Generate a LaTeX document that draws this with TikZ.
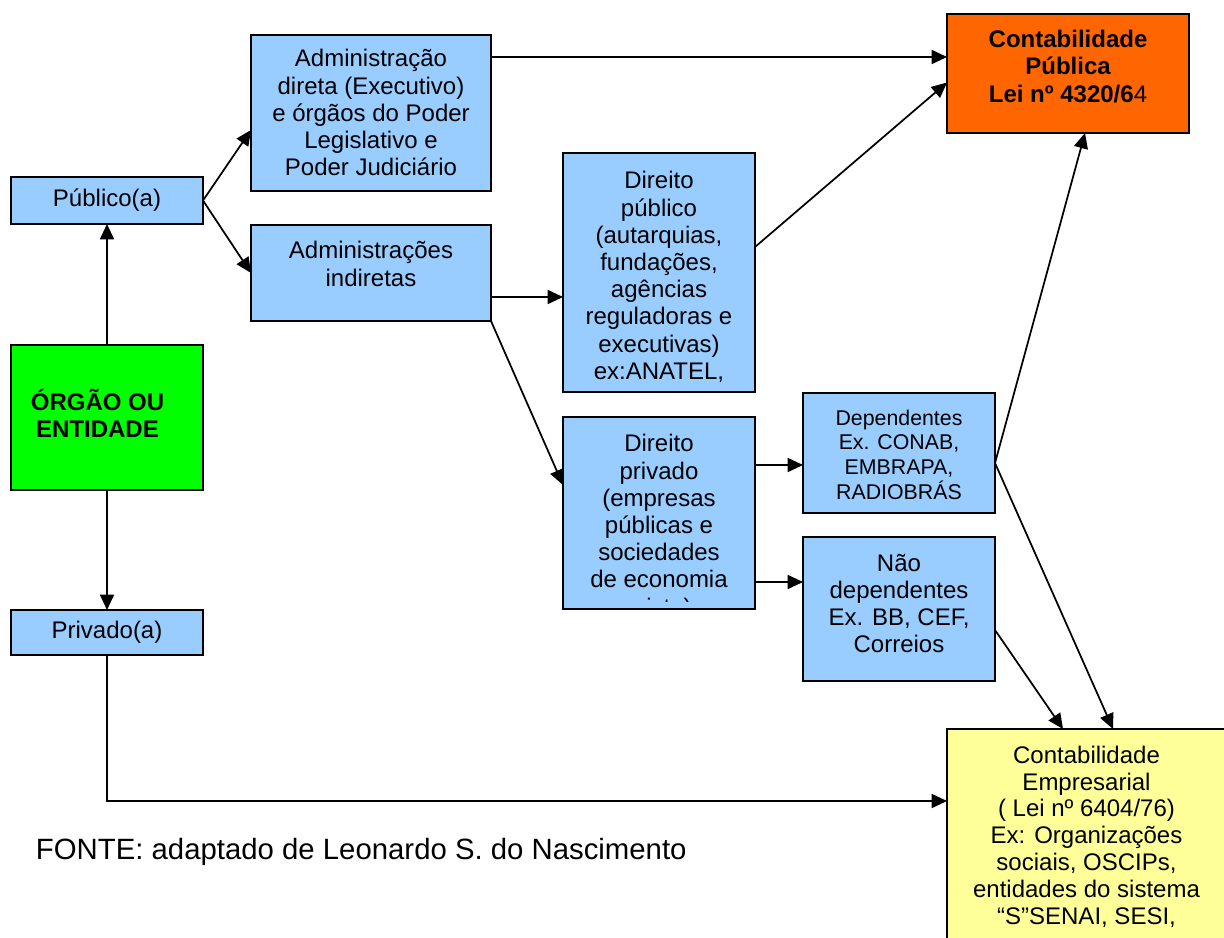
\documentclass[tikz,border=0pt]{standalone}
\usepackage{fontspec}
\setmainfont{Liberation Sans}
\usetikzlibrary{arrows.meta,calc}
\definecolor{lblue}{HTML}{99CCFF}
\definecolor{lgreen}{HTML}{00FF00}
\definecolor{orangebox}{HTML}{FF6600}
\definecolor{lyellow}{HTML}{FFFF99}
\begin{document}
\begin{tikzpicture}[x=0.75pt,y=-0.75pt,
  every node/.style={inner sep=0pt,outer sep=0pt},
  box/.style={draw=black,line width=1.4pt},
  txt/.style={align=center,font=\fontsize{18}{20.4}\selectfont,anchor=north},
  arr/.style={line width=1.3pt,-{Triangle[length=11.5pt,width=10.5pt]}}]
\useasboundingbox (0,0) rectangle (1224,938);
\clip (0,0) rectangle (1224,938);
% helper coordinates
\coordinate (y57) at (0,57);
\coordinate (y247) at (0,247);
\coordinate (y297) at (0,297);
\coordinate (y463) at (0,463);
\coordinate (y465) at (0,465);
\coordinate (y485) at (0,485);
\coordinate (y582) at (0,582);
\coordinate (y601) at (0,601);
\coordinate (y630) at (0,630);
\coordinate (y801) at (0,801);
\coordinate (x1063) at (1063,0);
\coordinate (x1085) at (1085,0);
\coordinate (x1113) at (1113,0);
% boxes
\node[box,fill=lblue,minimum width=144pt,minimum height=35.25pt,font=\fontsize{18}{20.4}\selectfont] (pub) at (107,200.5) {Público(a)};
\node[box,fill=lgreen,minimum width=144pt,minimum height=108.75pt] (org) at (107,417.5) {};
\node[align=center,font=\bfseries\fontsize{18}{20.4}\selectfont] (orgt) at (97.5,413.5) {ÓRGÃO OU\\ENTIDADE};
\node[box,fill=lblue,minimum width=144pt,minimum height=33.75pt,font=\fontsize{18}{20.4}\selectfont] (pri) at (107,632.5) {Privado(a)};
\node[box,fill=lblue,minimum width=180pt,minimum height=117pt] (adir) at (371,113) {};
\node[txt] (adirt) at ($(adir.north)+(0,14.5)$) {Administração\\direta (Executivo)\\e órgãos do Poder\\Legislativo e\\Poder Judiciário};
\node[box,fill=lblue,minimum width=180pt,minimum height=72pt] (aind) at (371,273) {};
\node[txt] (aindt) at ($(aind.north)+(0,16.5)$) {Administrações\\indiretas};
\node[box,fill=lblue,minimum width=144pt,minimum height=179.25pt] (dpub) at (659,272.5) {};
\node[txt] (dpubt) at ($(dpub.north)+(0,18.5)$) {Direito\\público\\(autarquias,\\fundações,\\agências\\reguladoras e\\executivas)\\ex:ANATEL,};
\node[box,fill=lblue,minimum width=144pt,minimum height=144pt] (dpri) at (659,513) {};
\begin{scope}
\clip (dpri.north west) rectangle (dpri.east |- y601);
\node[txt] (dprit) at ($(dpri.north)+(0,17.5)$) {Direito\\privado\\(empresas\\públicas e\\sociedades\\de economia\\mista)};
\end{scope}
\node[box,fill=lblue,minimum width=144pt,minimum height=90pt] (dep) at (899,453) {};
\node[txt,font=\fontsize{16}{18.4}\selectfont] (dept) at ($(dep.north)+(0,17)$) {Dependentes\\Ex. CONAB,\\EMBRAPA,\\RADIOBRÁS};
\node[box,fill=lblue,minimum width=144pt,minimum height=108pt] (ndep) at (899,609) {};
\node[txt] (ndept) at ($(ndep.north)+(0,17)$) {Não\\dependentes\\Ex. BB, CEF,\\Correios};
\node[box,fill=orangebox,minimum width=181.5pt,minimum height=89.25pt] (cpub) at (1068,73.5) {};
\node[txt,font=\bfseries\fontsize{18}{20.6}\selectfont] (cpubt) at ($(cpub.north)+(0,16)$) {Contabilidade\\Pública\\Lei nº 4320/6\textmd{4}};
\node[box,fill=lyellow,minimum width=209.25pt,minimum height=173.25pt] (cemp) at (1086.5,844.5) {};
\node[txt,font=\fontsize{18}{20.1}\selectfont] (cempt) at ($(cemp.north)+(0,17)$) {Contabilidade\\Empresarial\\( Lei nº 6404/76)\\Ex: Organizações\\sociais, OSCIPs,\\entidades do sistema\\“S”SENAI, SESI,};
\node[anchor=base west,font=\fontsize{22}{26}\selectfont] (fonte) at (36,859) {FONTE: adaptado de Leonardo S. do Nascimento};
% connectors
\draw[arr] (pub.east) -- ($(adir.west)+(0,17)$);
\draw[arr] (pub.east) -- (aind.west);
\draw[arr] (org.north) -- (pub.south);
\draw[arr] (org.south) -- (pri.north);
\draw[arr] (pri.south) |- (cemp.west |- y801);
\draw[arr] (adir.east |- y57) -- (cpub.west |- y57);
\draw[arr] (aind.east |- y297) -- (dpub.west |- y297);
\draw[arr] (aind.south east) -- (dpri.west |- y485);
\draw[arr] (dpub.east |- y247) -- ($(cpub.west)+(0,9)$);
\draw[arr] (dpri.east |- y465) -- (dep.west |- y465);
\draw[arr] (dpri.east |- y582) -- (ndep.west |- y582);
\draw[arr] (dep.east |- y463) -- (cpub.south -| x1085);
\draw[arr] (dep.east |- y463) -- (cemp.north -| x1113);
\draw[arr] (ndep.east |- y630) -- (cemp.north -| x1063);
\end{tikzpicture}
\end{document}
